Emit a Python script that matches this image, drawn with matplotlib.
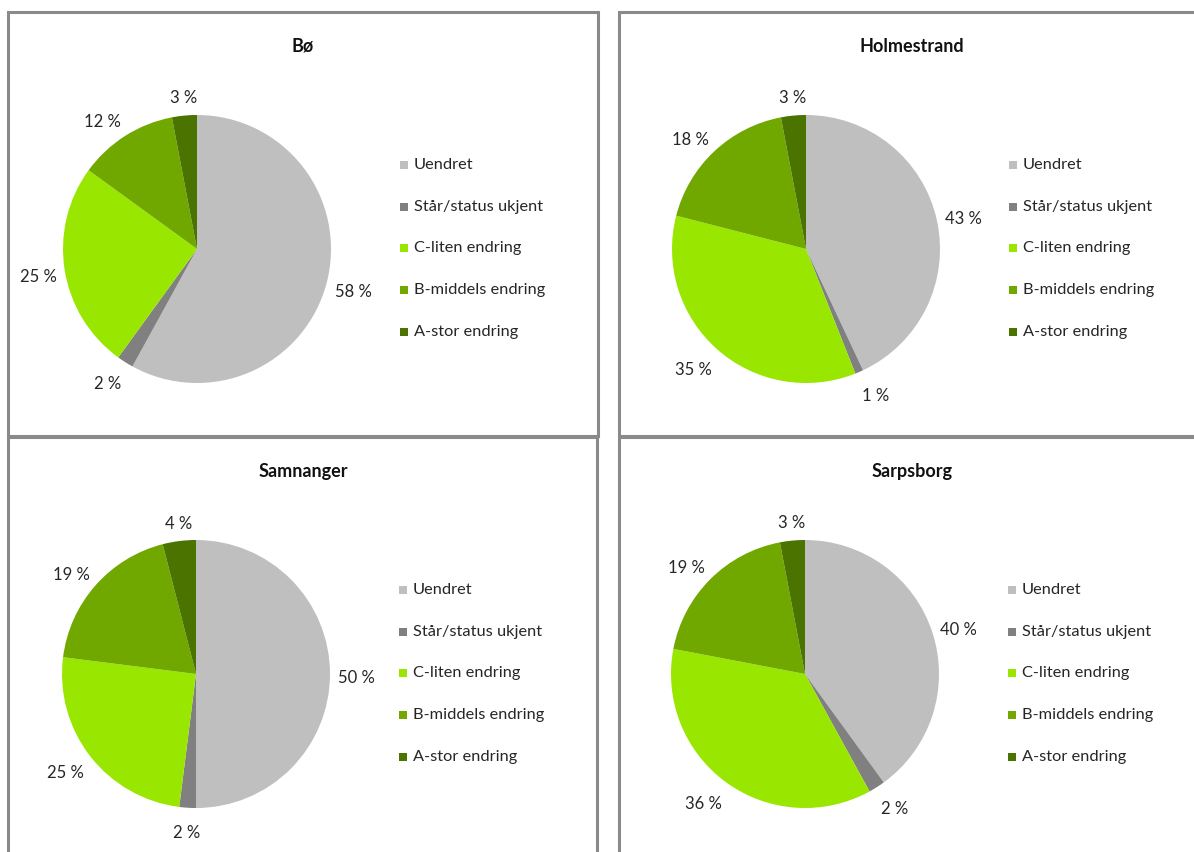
import matplotlib
matplotlib.use("Agg")
import matplotlib.pyplot as plt
from matplotlib.patches import Rectangle
import numpy as np

plt.rcParams['font.family'] = ['Lato', 'DejaVu Sans']

categories = ["Uendret", "Står/status ukjent", "C-liten endring", "B-middels endring", "A-stor endring"]
colors = ["#BFBFBF", "#808080", "#99E600", "#70A800", "#4A7300"]

titles = ["Bø", "Holmestrand", "Samnanger", "Sarpsborg"]
bo = [58, 2, 25, 12, 3]
holmestrand = [43, 1, 35, 18, 3]
samnanger = [50, 2, 25, 19, 4]
sarpsborg = [40, 2, 36, 19, 3]
datasets = [bo, holmestrand, samnanger, sarpsborg]

W, H = 1194, 852
fig = plt.figure(figsize=(W / 100, H / 100), dpi=100)

def fx(x):
    return x / W

def fy(y):
    return 1 - y / H

# panel frames (pixel coords: left, top, right, bottom)
panels = [(8, 12, 598, 436), (619, 12, 1210, 436), (8, 437, 597, 870), (619, 437, 1210, 870)]
# pie centres
centres = [(197, 249), (806, 249), (196, 674), (805, 674)]
R = 134

for (l, t, r, b) in panels:
    fig.patches.append(Rectangle((fx(l), fy(b)), fx(r - l), (b - t) / H,
                                 transform=fig.transFigure, fill=False,
                                 edgecolor="#8A8A8A", linewidth=2.2, zorder=0))

for i, (title, vals) in enumerate(zip(titles, datasets)):
    l, t, r, b = panels[i]
    cx, cy = centres[i]
    half = 200
    ax = fig.add_axes([fx(cx - half), fy(cy + half), 2 * half / W, 2 * half / H])
    wedges, _ = ax.pie(vals, colors=colors, startangle=90, counterclock=False,
                       radius=1.0, wedgeprops=dict(linewidth=0))
    lim = half / R
    ax.set_xlim(-lim, lim)
    ax.set_ylim(-lim, lim)
    ax.set_aspect('equal')
    ax.axis('off')
    for w, v in zip(wedges, vals):
        ang = np.deg2rad((w.theta1 + w.theta2) / 2)
        c, s = np.cos(ang), np.sin(ang)
        x = 1.06 * c
        y = 1.16 * s - 4.0 / R
        if abs(c) < 0.2:
            ha = 'center'
        elif c > 0:
            ha = 'left'
        else:
            ha = 'right'
        ax.text(x, y, f"{v} %", ha=ha, va='center', fontsize=12, color="#262626")
    # title
    tx = (598 + 8) / 2 if i % 2 == 0 else 912
    ty = 46 if i < 2 else 472
    fig.text(fx(tx), fy(ty), title, ha='center', va='center', fontsize=13,
             fontweight='bold', color="#111111")
    # legend
    lx = cx + 203
    ly0 = cy - 84
    for k, (cat, col) in enumerate(zip(categories, colors)):
        yy = ly0 + k * 41.7
        fig.patches.append(Rectangle((fx(lx), fy(yy + 4)), 8 / W, 8 / H,
                                     transform=fig.transFigure, facecolor=col,
                                     edgecolor='none'))
        fig.text(fx(lx + 14), fy(yy), cat, ha='left', va='center', fontsize=11.8,
                 color="#262626")

fig.savefig("out.png", dpi=100, facecolor="white")
